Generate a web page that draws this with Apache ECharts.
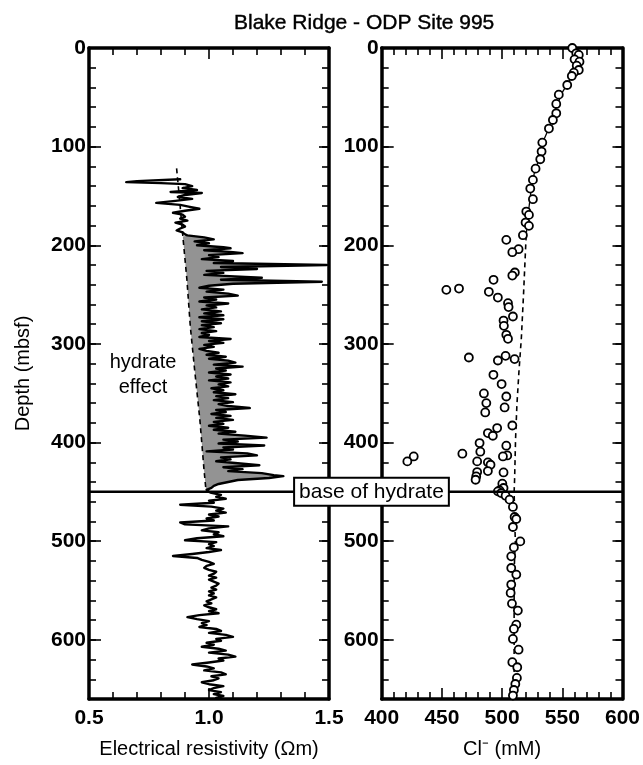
<!DOCTYPE html>
<html><head><meta charset="utf-8">
<script src="https://cdn.jsdelivr.net/npm/echarts@6/dist/echarts.min.js"></script>
<style>html,body{margin:0;padding:0;background:#fff}#c{width:643px;height:765px}</style>
</head><body><div id="c"></div>
<script>
// ---------- Resistivity log (depth mbsf, resistivity Ohm-m) ----------
const resDepth = [
133,135,136,137,138,140,142,144,146,147,149,151,153,155,157,159,161,163,165,167,169,171,173,175,177,179,181,183,185,187,189,
190,192,194,196,198,200,202,203,205,207,208,210,212,214,216,218,220,222,224,226,228,230,232,233,235,237,239,241,243,245,
247,249,251,253,255,257,259,261,263,265,267,269,271,273,275,277,279,281,283,285,287,289,291,293,295,297,299,301,303,305,
307,309,311,313,315,317,319,321,323,325,327,329,331,333,335,337,339,341,343,345,347,349,351,353,355,357,359,361,363,365,
367,369,371,373,375,377,379,381,383,385,387,389,391,393,395,397,399,401,403,405,407,409,411,413,415,417,419,421,423,425,
427,429,431,433,434,436,438,440,442,444,446,448,450,
451,453,455,457,459,461,463,465,467,469,471,473,475,477,479,481,483,485,487,489,491,493,495,497,499,501,503,505,507,509,
511,513,515,517,519,521,523,525,527,529,531,533,535,537,539,541,543,545,547,549,551,553,555,557,559,561,563,565,567,569,
571,573,575,577,579,581,583,585,587,589,591,593,595,597,599,601,603,605,607,609,611,613,615,617,619,621,623,625,627,629,
631,633,635,637,639,641,643,645,647,649,651,653,655,657,659];
const resValue = [
0.88,0.70,0.655,0.80,0.90,0.93,0.89,0.95,0.84,0.97,0.90,0.87,0.93,0.86,0.78,0.88,0.92,0.96,0.90,0.85,0.89,0.90,0.88,0.91,0.86,0.89,0.90,0.88,0.865,0.89,0.90,
0.91,0.98,1.02,0.94,1.00,0.95,1.06,1.09,0.98,1.10,1.14,1.00,1.04,0.97,1.10,1.02,1.49,1.05,1.20,0.99,1.06,0.98,1.15,1.22,1.05,1.47,1.10,1.00,0.96,1.06,
0.99,1.08,1.12,0.98,1.03,0.96,1.08,0.99,1.03,0.97,1.05,0.98,1.06,0.96,1.06,0.97,1.05,0.97,1.02,0.96,1.03,0.97,1.00,0.96,1.09,1.00,1.06,0.98,1.02,0.96,
0.99,1.04,0.99,1.07,1.00,1.08,1.11,1.02,1.14,1.03,1.07,1.00,1.09,1.03,1.08,1.00,1.09,1.04,1.08,1.01,1.06,1.02,1.11,1.03,1.08,1.02,1.10,1.04,1.08,1.17,
1.03,1.07,1.01,1.09,1.03,1.10,1.02,1.06,1.00,1.08,1.02,1.11,1.04,1.15,1.24,1.06,1.12,1.04,1.23,1.06,1.10,0.99,1.16,1.20,1.05,1.09,1.03,1.12,1.21,1.06,
1.14,1.08,1.22,1.27,1.31,1.25,1.12,1.08,1.04,1.02,1.01,0.99,1.00,
1.01,1.05,1.03,1.07,1.00,1.02,0.88,1.01,1.06,1.03,1.07,1.00,1.04,0.99,1.02,0.88,0.90,1.08,1.00,0.97,1.04,1.02,1.06,0.95,0.90,1.03,1.00,1.02,0.99,1.05,
1.00,0.93,0.85,0.95,0.97,1.00,1.02,0.99,0.98,1.00,1.03,1.02,1.00,1.03,1.00,1.02,1.04,1.03,1.01,1.03,1.00,1.02,1.00,1.03,1.01,0.99,1.01,0.98,1.00,1.03,
1.00,1.04,0.96,0.91,0.95,1.00,0.97,0.99,0.96,1.03,1.05,1.00,1.07,1.10,1.03,1.05,0.99,1.02,0.97,1.04,1.07,1.00,1.08,1.11,1.04,1.06,1.00,0.93,0.99,1.02,
0.98,1.05,1.07,1.01,1.04,1.02,0.97,1.00,1.06,1.02,1.00,1.05,1.02,1.06,1.03];

// Hydrate-free baseline (dashed)
const baseDepth = [122,150,191,235,282,326,377,427,450];
const baseValue = [0.865,0.876,0.891,0.908,0.922,0.940,0.962,0.979,0.988];
const hydrateTop = 190, hydrateBase = 450;

// ---------- Chloride (depth mbsf, Cl mM) ----------
const clDepth = [0,5.4,7,11.5,13.9,17.9,22.3,25,28.4,37.5,47.3,56.7,66.2,73,81.7,95.9,105,112.8,122.3,133.7,142.5,153.3,165.8,169.2,177,180.3,189.8,
194.5,204,207,227.6,230.7,235,245.2,243.9,247.2,253,258.7,262.7,272.2,276.3,281.7,290.8,294.8,312.1,313.8,315.4,316.8,331.3,340.7,350.2,353.3,360,364.4,369.5,
382.7,385.3,390.4,393.1,400.5,403.2,409.3,411.3,413.1,414.1,414.1,419.1,419.1,420.1,422.5,428.9,429.9,430.3,434.3,437.7,441.7,446.1,448.5,449.5,451.2,453.9,457.9,
465.3,475.5,477.5,485.6,500.2,506.3,515.4,527.2,533.9,544,552.5,563.3,570.4,584.6,589,599.1,610,622.7,627.8,638.6,644.8,650.9,656.5];
const clValue = [558.3,561.6,563.7,560.2,564.3,562,563.7,559.6,557.9,554.1,547.1,545,545,542.2,538.9,533.4,532.8,531.7,527.8,525.6,523.4,525.6,520.1,522.3,519.5,522.3,517.3,
503.5,513.7,508.5,510.6,508.5,492.9,453.7,464.2,489,496.5,504.9,505.4,509,501.2,501.5,503.5,504.9,502.9,472.4,510.4,496.5,492.8,499.6,484.9,503.5,486.9,502.1,486,
508.5,495.9,488.2,492.3,481.3,503.5,481.9,467,504.3,500.7,426.6,421.3,479.3,488.2,490.4,488.2,479.3,501.2,478.5,478,500.2,501.2,497.9,496.5,499.3,502.9,506.2,
509,510.4,511.8,509,515.1,509.8,507.6,507.6,511.8,507.6,507.1,508.2,513.1,511.8,509.8,509,513.7,508.5,512.6,512.3,511,509.8,509];
// Cl trend: solid through shallow points, dashed below
const clTrendUpDepth = [0,8,18,25,33,45,60,78,95,112,125,145,165,190];
const clTrendUpValue = [560,563,563,561,556,550,545,540,534,531,527,524,522,520];
const clTrendLowDepth = [190,250,294,328,362,396,437,450,480,500,530,560,600,630,660];
const clTrendLowValue = [520,517.8,516,514,512.3,511.2,510.4,510,510.5,511,510,510,510,510,510];

const FONT = '"Liberation Sans", Arial, Helvetica, sans-serif';
const BLACK = '#000';
const pairs = (xs, ys) => xs.map((x, i) => [x, ys[i]]);

const logPts = pairs(resValue, resDepth);
const basePts = pairs(baseValue, baseDepth);
const fillPoly = logPts.filter(p => p[1] >= hydrateTop && p[1] <= hydrateBase)
  .concat(basePts.filter(p => p[1] >= hydrateTop).reverse());

const tickLabel = {color: BLACK, fontFamily: FONT, fontSize: 21, fontWeight: 'bold'};
const nameStyle = {color: BLACK, fontFamily: FONT, fontSize: 20};

function xPair(grid, min, max, interval, fmt, name) {
  const common = {gridIndex: grid, type: 'value', min, max, interval,
    splitLine: {show: false},
    axisLine: {show: true, onZero: false, lineStyle: {color: BLACK, width: 3.5}},
    axisTick: {show: true, inside: true, length: 11, lineStyle: {color: BLACK, width: 1.6}},
    minorTick: {show: true, splitNumber: 5, length: 7, lineStyle: {color: BLACK, width: 1.6}}};
  return [
    Object.assign({}, common, {position: 'bottom',
      axisLabel: {show: true, margin: 9, formatter: fmt, ...tickLabel},
      name, nameLocation: 'middle', nameGap: 40, nameTextStyle: nameStyle}),
    Object.assign({}, common, {position: 'top', axisLabel: {show: false}})
  ];
}
function yQuad(grid, name) {
  const base = {gridIndex: grid, type: 'value', min: 0, max: 660, inverse: true, splitLine: {show: false}};
  const major = (pos, len, labels) => Object.assign({}, base, {position: pos, interval: 100,
    axisLine: {show: true, onZero: false, lineStyle: {color: BLACK, width: 3.5}},
    axisTick: {show: true, inside: true, length: len, lineStyle: {color: BLACK, width: 1.6}},
    axisLabel: labels ? {show: true, margin: 3, formatter: v => (v % 100 === 0 ? String(v) : ''), ...tickLabel} : {show: false}});
  const minor = (pos) => Object.assign({}, base, {position: pos, interval: 20,
    axisLine: {show: false},
    axisTick: {show: true, inside: true, length: 7, lineStyle: {color: BLACK, width: 1.6}},
    axisLabel: {show: false}});
  const m = major('left', 12, true);
  if (name) Object.assign(m, {name, nameLocation: 'middle', nameGap: 56, nameTextStyle: nameStyle});
  return [m, minor('left'), major('right', 10, false), minor('right')];
}

const chart = echarts.init(document.getElementById('c'), null, {renderer: 'canvas'});
chart.setOption({
  animation: false,
  backgroundColor: '#fff',
  title: {text: 'Blake Ridge - ODP Site 995', left: 229, top: 8,
    textStyle: {color: BLACK, fontFamily: FONT, fontSize: 21, fontWeight: 'normal',
      textBorderColor: BLACK, textBorderWidth: 0.4}},
  grid: [
    {left: 89, top: 48, width: 240, height: 651},
    {left: 381.7, top: 48, width: 241.6, height: 651}
  ],
  xAxis: [
    ...xPair(0, 0.5, 1.5, 0.5, v => v.toFixed(1), 'Electrical resistivity (\u03A9m)'),
    ...xPair(1, 400, 600, 50, v => String(v), 'Cl\u207B (mM)')
  ],
  yAxis: [...yQuad(0, 'Depth (mbsf)'), ...yQuad(1, null)],
  series: [
    {type: 'custom', xAxisIndex: 0, yAxisIndex: 0, data: [[1, 300]], silent: true, z: 1,
      renderItem: (params, api) => ({type: 'polygon',
        shape: {points: fillPoly.map(p => api.coord(p))},
        style: {fill: '#939393', stroke: null}})},
    {type: 'line', xAxisIndex: 0, yAxisIndex: 0, data: logPts, symbol: 'none', showSymbol: false,
      lineStyle: {color: BLACK, width: 2.4, join: 'round', cap: 'round'}, z: 3},
    {type: 'line', xAxisIndex: 0, yAxisIndex: 0, data: basePts, symbol: 'none', showSymbol: false,
      lineStyle: {color: BLACK, width: 1.6, type: [5, 4]}, z: 4},
    {type: 'line', xAxisIndex: 2, yAxisIndex: 4, data: pairs(clTrendUpValue, clTrendUpDepth), symbol: 'none',
      showSymbol: false, lineStyle: {color: BLACK, width: 1.3}, z: 3},
    {type: 'line', xAxisIndex: 2, yAxisIndex: 4, data: pairs(clTrendLowValue, clTrendLowDepth), symbol: 'none',
      showSymbol: false, lineStyle: {color: BLACK, width: 1.6, type: [5, 4]}, z: 3},
    {type: 'scatter', xAxisIndex: 2, yAxisIndex: 4, data: pairs(clValue, clDepth), symbol: 'circle',
      symbolSize: 8, itemStyle: {color: '#fff', borderColor: BLACK, borderWidth: 1.8, opacity: 1}, z: 5}
  ]
});

// Annotations positioned through the axes
const g0 = {xAxisIndex: 0, yAxisIndex: 0};
const g1 = {xAxisIndex: 2, yAxisIndex: 4};
const pL = chart.convertToPixel(g0, [0.5, hydrateBase]);
const pR = chart.convertToPixel(g1, [600, hydrateBase]);
const pLabel = chart.convertToPixel(g0, [1.677, hydrateBase]);
const pEff = chart.convertToPixel(g0, [0.725, 332]);
chart.setOption({
  graphic: [
    {type: 'line', z: 100, shape: {x1: pL[0], y1: pL[1], x2: pR[0], y2: pR[1]},
      style: {stroke: BLACK, lineWidth: 2.5}},
    {type: 'text', z: 101, x: pLabel[0], y: pLabel[1],
      style: {text: 'base of hydrate', fill: BLACK, font: '21px ' + FONT, align: 'center', verticalAlign: 'middle',
        backgroundColor: '#fff', borderColor: BLACK, borderWidth: 2, padding: [3, 4, 2, 4]}},
    {type: 'text', z: 101, x: pEff[0], y: pEff[1],
      style: {text: 'hydrate\neffect', fill: BLACK, font: '20px ' + FONT, align: 'center', verticalAlign: 'middle',
        lineHeight: 25}}
  ]
});
</script></body></html>
